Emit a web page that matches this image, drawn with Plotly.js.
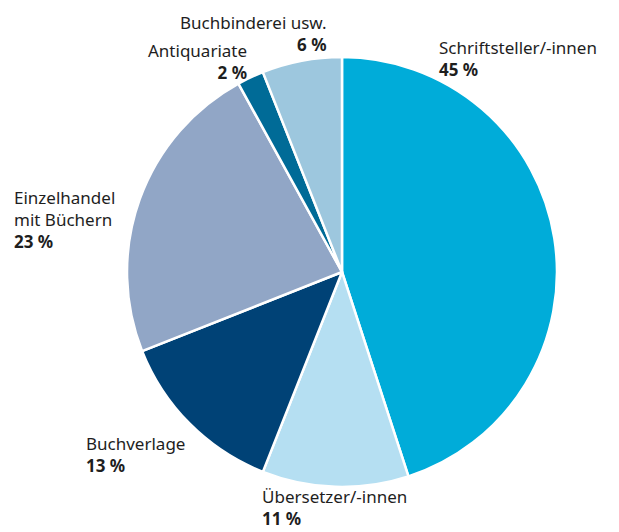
<!DOCTYPE html>
<html><head><meta charset="utf-8">
<script src="https://cdn.plot.ly/plotly-3.0.1.min.js"></script>
<style>html,body{margin:0;padding:0;background:#fff}</style>
</head><body><div id="chart" style="width:619px;height:532px"></div>
<script>
const categories = ["Schriftsteller/-innen","Übersetzer/-innen","Buchverlage","Einzelhandel<br>mit Büchern","Antiquariate","Buchbinderei usw."];
const values = [45, 11, 13, 23, 2, 6];
const colors = ["#00acd9","#b5dff2","#004276","#91a6c6","#006b97","#9dc7de"];
// label placement (paper coords) and alignment
const labelX = [0.706, 0.420, 0.136, 0.019, 0.402, 0.5315];
const labelY = [0.936, 0.0, 0.192, 0.654, 0.930, 0.983];
const labelYAnchor = ["top","bottom","top","top","top","top"];
const labelAlign = ["left","left","left","left","right","right"];

const annotations = categories.map((c,i)=>({
  text: c + "<br><b>" + values[i] + " %</b>",
  x: labelX[i], y: labelY[i], xref:"paper", yref:"paper",
  xanchor: labelAlign[i], yanchor: labelYAnchor[i], align: labelAlign[i],
  showarrow:false, font:{family:"Noto Sans", size:17, color:"#1e1e1e"}
}));

Plotly.newPlot("chart", [{
  type:"pie", labels:categories, values:values, sort:false, direction:"clockwise", rotation:0,
  marker:{colors:colors, line:{color:"#fff", width:2.5}},
  textinfo:"none", hoverinfo:"none",
  domain:{x:[0.2052,0.8998], y:[0.0846,0.8929]}
}], {
  width:619, height:532, margin:{l:0,r:0,t:0,b:0}, showlegend:false,
  paper_bgcolor:"#fff", annotations:annotations
}, {displayModeBar:false, staticPlot:true});
</script></body></html>
